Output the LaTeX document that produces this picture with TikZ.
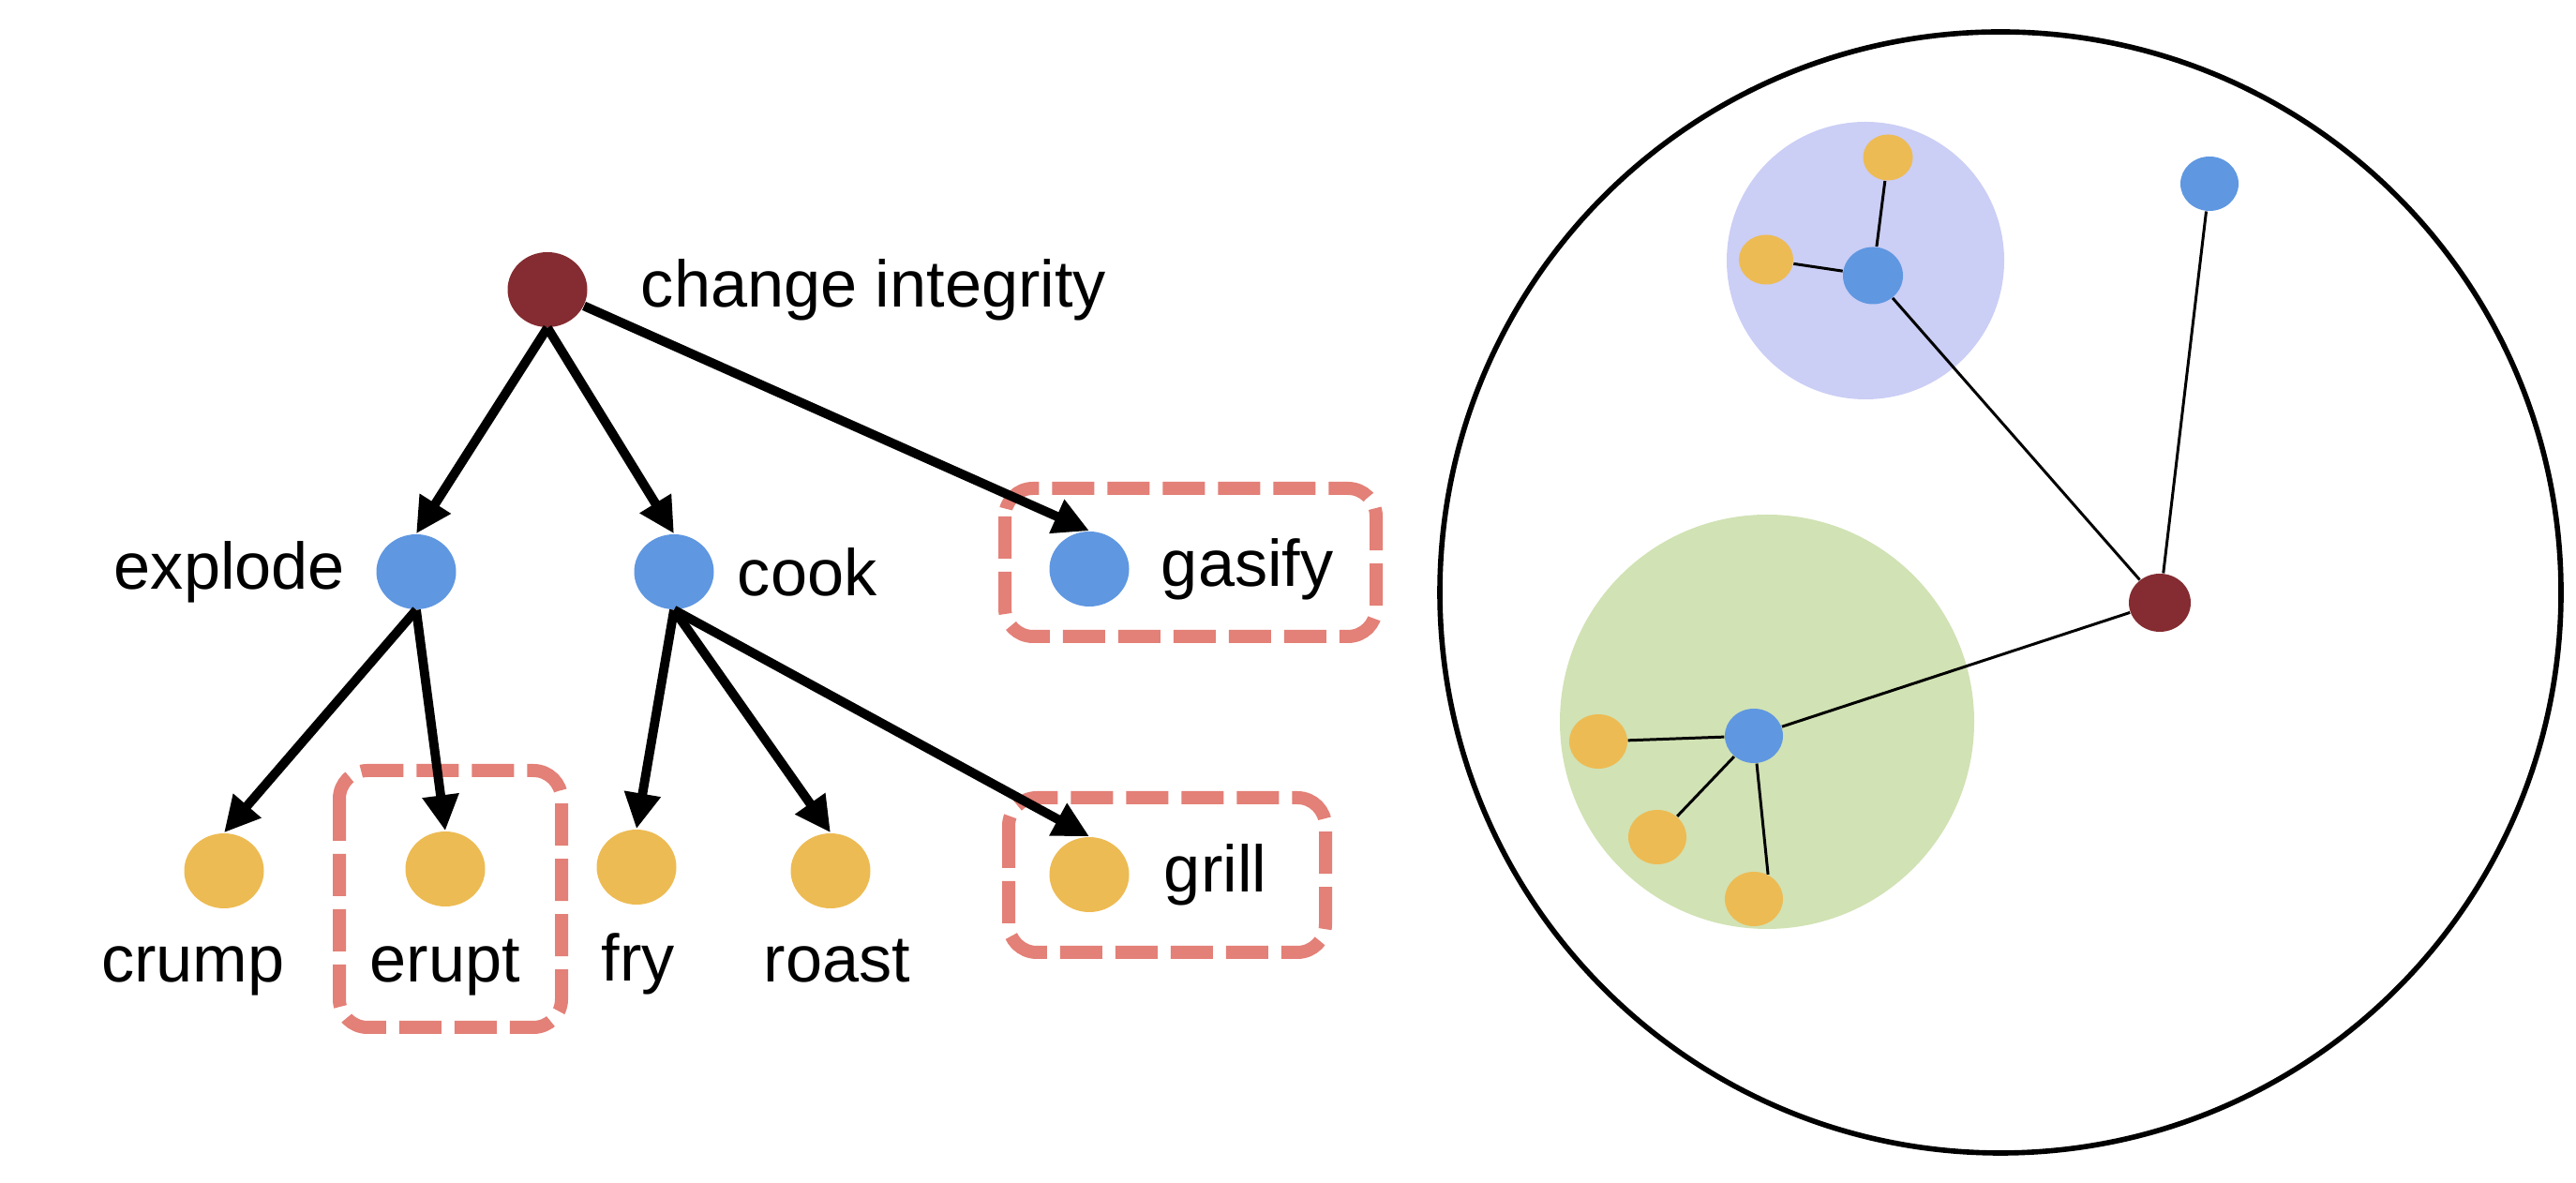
\documentclass[tikz,border=0pt]{standalone}
\usepackage{fontspec}
\setmainfont{Liberation Sans}
\usetikzlibrary{arrows.meta,positioning,shapes.geometric}
\definecolor{rootred}{HTML}{842C31}
\definecolor{midblue}{HTML}{5F97E1}
\definecolor{leafgold}{HTML}{EDBB53}
\definecolor{boxcoral}{HTML}{E38077}
\definecolor{lilac}{HTML}{CBCEF5}
\definecolor{sage}{HTML}{D1E2B4}
\tikzset{
  treedot/.style={ellipse, inner sep=0pt, minimum width=0.85cm, minimum height=0.8cm},
  netdot/.style={ellipse, inner sep=0pt, minimum width=0.62cm, minimum height=0.58cm},
  lbl/.style={inner sep=0pt, font=\fontsize{20}{24}\selectfont},
  treearrow/.style={-{Triangle[length=0.38cm,width=0.37cm]}, line width=2.8pt},
  dashbox/.style={draw=boxcoral, line width=0.14cm, dash pattern=on 0.45cm off 0.14cm, rounded corners=0.3cm},
  netlink/.style={line width=0.85pt},
}
\begin{document}
\begin{tikzpicture}
  \useasboundingbox (0,0) rectangle (27.48,12.62);
  % highlighted boxes
  \draw[dashbox] (10.72,7.41) rectangle (14.68,5.83);
  \draw[dashbox] (3.62,4.40) rectangle (5.99,1.66);
  \draw[dashbox] (10.76,4.11) rectangle (14.14,2.46);
  % tree
  \node[treedot, fill=rootred] (root) at (5.84,9.53) {};
  \node[treedot, fill=midblue] (explode) at (4.44,6.52) {};
  \node[treedot, fill=midblue] (cook) at (7.19,6.52) {};
  \node[treedot, fill=midblue] (gasify) at (11.62,6.55) {};
  \node[treedot, fill=leafgold] (crump) at (2.39,3.33) {};
  \node[treedot, fill=leafgold] (erupt) at (4.75,3.35) {};
  \node[treedot, fill=leafgold] (fry) at (6.79,3.37) {};
  \node[treedot, fill=leafgold] (roast) at (8.86,3.33) {};
  \node[treedot, fill=leafgold] (grill) at (11.62,3.29) {};
  \node[lbl, right=0.56cm of root] (rootlbl) {change integrity};
  \node[lbl, left=0.32cm of explode] (explodelbl) {explode};
  \node[lbl, right=0.24cm of cook] (cooklbl) {cook};
  \node[lbl, right=0.33cm of gasify] (gasifylbl) {gasify};
  \node[lbl, right=0.36cm of grill] (grilllbl) {grill};
  \node[lbl, below=0.78cm of crump, anchor=base, xshift=-0.33cm] (crumplbl) {crump};
  \node[lbl, below=0.80cm of erupt, anchor=base] (eruptlbl) {erupt};
  \node[lbl, below=0.81cm of fry, anchor=base, xshift=0.02cm] (frylbl) {fry};
  \node[lbl, below=0.78cm of roast, anchor=base, xshift=0.07cm] (roastlbl) {roast};
  \draw[treearrow] (root.south) -- (explode.north);
  \draw[treearrow] (root.south) -- (cook.north);
  \draw[treearrow] (root) -- (gasify.north);
  \draw[treearrow] (explode.south) -- (crump.north);
  \draw[treearrow] (explode.south) -- (erupt.north);
  \draw[treearrow] (cook.south) -- (fry.north);
  \draw[treearrow] (cook.south) -- (roast.north);
  \draw[treearrow] (cook.south) -- (grill.north);
  % embedding
  \draw[line width=1.6pt] (21.34,6.30) circle (5.98);
  \fill[lilac] (19.90,9.84) circle (1.48);
  \fill[sage] (18.85,4.92) circle (2.21);
  \node[netdot, fill=rootred, minimum width=0.66cm, minimum height=0.62cm] (rr) at (23.04,6.19) {};
  \node[netdot, fill=midblue] (tb) at (23.57,10.66) {};
  \node[netdot, fill=midblue, minimum width=0.64cm, minimum height=0.61cm] (pb) at (19.98,9.68) {};
  \node[netdot, fill=leafgold, minimum width=0.53cm, minimum height=0.49cm] (py1) at (20.14,10.94) {};
  \node[netdot, fill=leafgold, minimum width=0.58cm, minimum height=0.53cm] (py2) at (18.84,9.85) {};
  \node[netdot, fill=midblue] (gb) at (18.71,4.77) {};
  \node[netdot, fill=leafgold] (gy1) at (17.05,4.71) {};
  \node[netdot, fill=leafgold] (gy2) at (17.68,3.69) {};
  \node[netdot, fill=leafgold] (gy3) at (18.71,3.03) {};
  \draw[netlink] (rr) -- (tb);
  \draw[netlink] (rr) -- (pb);
  \draw[netlink] (rr) -- (gb);
  \draw[netlink] (pb) -- (py1);
  \draw[netlink] (pb) -- (py2);
  \draw[netlink] (gb) -- (gy1);
  \draw[netlink] (gb) -- (gy2);
  \draw[netlink] (gb) -- (gy3.60);
\end{tikzpicture}
\end{document}
